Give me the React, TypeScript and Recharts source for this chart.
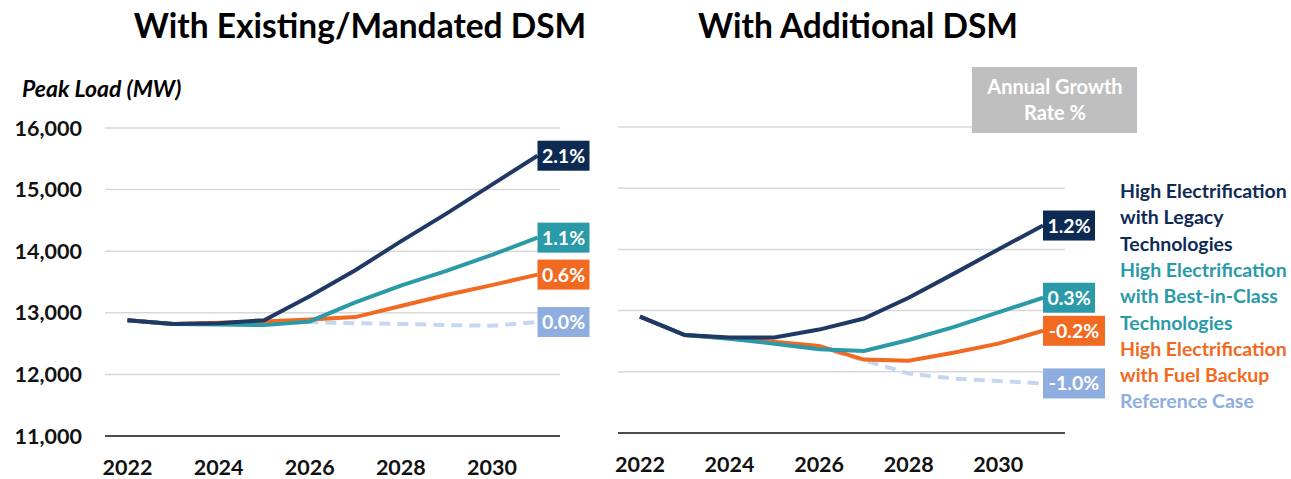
import { CartesianGrid, Line, LineChart, XAxis, YAxis } from "recharts";

const years = ["2022", "2023", "2024", "2025", "2026", "2027", "2028", "2029", "2030", "2031"];
const yTicks = [11000, 12000, 13000, 14000, 15000, 16000];
const xTicks = ["2022", "2024", "2026", "2028", "2030"];

// With Existing/Mandated DSM
const existingLegacy = [12880, 12820, 12830, 12880, 13270, 13690, 14160, 14610, 15080, 15550];
const existingBest = [12880, 12820, 12810, 12800, 12860, 13170, 13440, 13680, 13940, 14220];
const existingFuel = [12880, 12820, 12840, 12860, 12890, 12930, 13110, 13290, 13450, 13620];
const existingRef = [12880, 12820, 12830, 12840, 12850, 12830, 12820, 12800, 12790, 12850];
const existingRates = ["2.1%", "1.1%", "0.6%", "0.0%"];

// With Additional DSM
const additionalLegacy = [12900, 12600, 12560, 12560, 12690, 12870, 13210, 13600, 14000, 14390];
const additionalBest = [12900, 12600, 12540, 12460, 12370, 12340, 12520, 12730, 12970, 13210];
const additionalFuel = [12900, 12600, 12550, 12490, 12420, 12200, 12180, 12310, 12460, 12670];
const additionalRef = [12900, 12600, 12550, 12480, 12400, 12190, 11970, 11890, 11850, 11810];
const additionalRates = ["1.2%", "0.3%", "-0.2%", "-1.0%"];

const legendLines = [
  { text: "High Electrification", color: "#0f2b55" },
  { text: "with Legacy", color: "#0f2b55" },
  { text: "Technologies", color: "#0f2b55" },
  { text: "High Electrification", color: "#2a9aa8" },
  { text: "with Best-in-Class", color: "#2a9aa8" },
  { text: "Technologies", color: "#2a9aa8" },
  { text: "High Electrification", color: "#f26a22" },
  { text: "with Fuel Backup", color: "#f26a22" },
  { text: "Reference Case", color: "#8eaee0" },
];

const FONT = "Lato, 'Open Sans', sans-serif";
const NAVY = "#1f3864";
const TEAL = "#2b9aa6";
const ORANGE = "#f26a22";
const REF = "#c5d6f0";

function buildRows(legacy: number[], best: number[], fuel: number[], ref: number[]) {
  return years.map((year, i) => ({ year, legacy: legacy[i], best: best[i], fuel: fuel[i], ref: ref[i] }));
}

const endLabel = (text: string, fill: string) => (p: any) => {
  if (p.index !== years.length - 1) return <g />;
  const w = 12 + text.length * 10;
  return (
    <g>
      <rect x={p.x} y={p.y - 15} width={w} height={30} fill={fill} />
      <text
        x={p.x + w / 2}
        y={p.y + 7}
        textAnchor="middle"
        fill="#fff"
        fontFamily={FONT}
        fontWeight={700}
        fontSize={19.5}
      >
        {text}
      </text>
    </g>
  );
};

function Panel({ rows, rates, showY, width, margin, pad }: any) {
  return (
    <LineChart width={width} height={479} data={rows} margin={margin}>
      <CartesianGrid vertical={false} stroke="#d9d9d9" strokeWidth={1.5} />
      <XAxis
        dataKey="year"
        ticks={xTicks}
        interval={0}
        padding={{ left: pad, right: pad }}
        height={showY ? 43 : 46}
        tickSize={0}
        tickMargin={24}
        axisLine={{ stroke: "#4d4d4d", strokeWidth: 2 }}
        tick={{ fill: "#111", fontFamily: FONT, fontWeight: 700, fontSize: 21.5 }}
      />
      <YAxis
        domain={[11000, 16000]}
        ticks={yTicks}
        hide={!showY}
        width={105}
        tickSize={0}
        tickMargin={23}
        axisLine={false}
        tickFormatter={(v: number) => v.toLocaleString("en-US")}
        tick={{ fill: "#111", fontFamily: FONT, fontWeight: 700, fontSize: 21.5 }}
      />
      <Line
        dataKey="ref"
        stroke={REF}
        strokeWidth={4}
        strokeDasharray="11 7"
        dot={false}
        isAnimationActive={false}
        label={endLabel(rates[3], "#8eaee0")}
      />
      <Line
        dataKey="fuel"
        stroke={ORANGE}
        strokeWidth={4}
        dot={false}
        isAnimationActive={false}
        label={endLabel(rates[2], ORANGE)}
      />
      <Line
        dataKey="best"
        stroke={TEAL}
        strokeWidth={4}
        dot={false}
        isAnimationActive={false}
        label={endLabel(rates[1], "#2a9aa8")}
      />
      <Line
        dataKey="legacy"
        stroke={NAVY}
        strokeWidth={4}
        dot={false}
        isAnimationActive={false}
        label={endLabel(rates[0], "#0d2a52")}
      />
    </LineChart>
  );
}

export default function App() {
  const left = buildRows(existingLegacy, existingBest, existingFuel, existingRef);
  const right = buildRows(additionalLegacy, additionalBest, additionalFuel, additionalRef);
  return (
    <div style={{ position: "absolute", left: 0, top: 0, width: 1291, height: 479, background: "#fff", fontFamily: FONT }}>
      <div style={{ position: "absolute", left: 0, top: 0 }}>
        <Panel rows={left} rates={existingRates} showY width={620} pad={22.5} margin={{ top: 128, right: 60, bottom: 0, left: 0 }} />
      </div>
      <div style={{ position: "absolute", left: 600, top: 0 }}>
        <Panel rows={right} rates={additionalRates} showY={false} width={520} pad={22} margin={{ top: 127, right: 55, bottom: 0, left: 18 }} />
      </div>
      <svg width={1291} height={479} style={{ position: "absolute", left: 0, top: 0, pointerEvents: "none" }}>
        <text x={360} y={38} textAnchor="middle" fontFamily={FONT} fontWeight={700} fontSize={33.5} fill="#000">
          With Existing/Mandated DSM
        </text>
        <text x={858} y={38} textAnchor="middle" fontFamily={FONT} fontWeight={700} fontSize={33.5} fill="#000">
          With Additional DSM
        </text>
        <text x={22} y={97} fontFamily={FONT} fontWeight={700} fontStyle="italic" fontSize={23} fill="#000">
          Peak Load (MW)
        </text>
        <rect x={972} y={67} width={165} height={66} fill="#bfbfbf" />
        <text x={1055} y={94} textAnchor="middle" fontFamily={FONT} fontWeight={700} fontSize={20} fill="#fff">
          Annual Growth
        </text>
        <text x={1055} y={120} textAnchor="middle" fontFamily={FONT} fontWeight={700} fontSize={20} fill="#fff">
          Rate %
        </text>
        {legendLines.map((l, i) => (
          <text key={i} x={1120} y={198 + i * 26.3} fontFamily={FONT} fontWeight={700} fontSize={19.5} fill={l.color}>
            {l.text}
          </text>
        ))}
      </svg>
    </div>
  );
}
